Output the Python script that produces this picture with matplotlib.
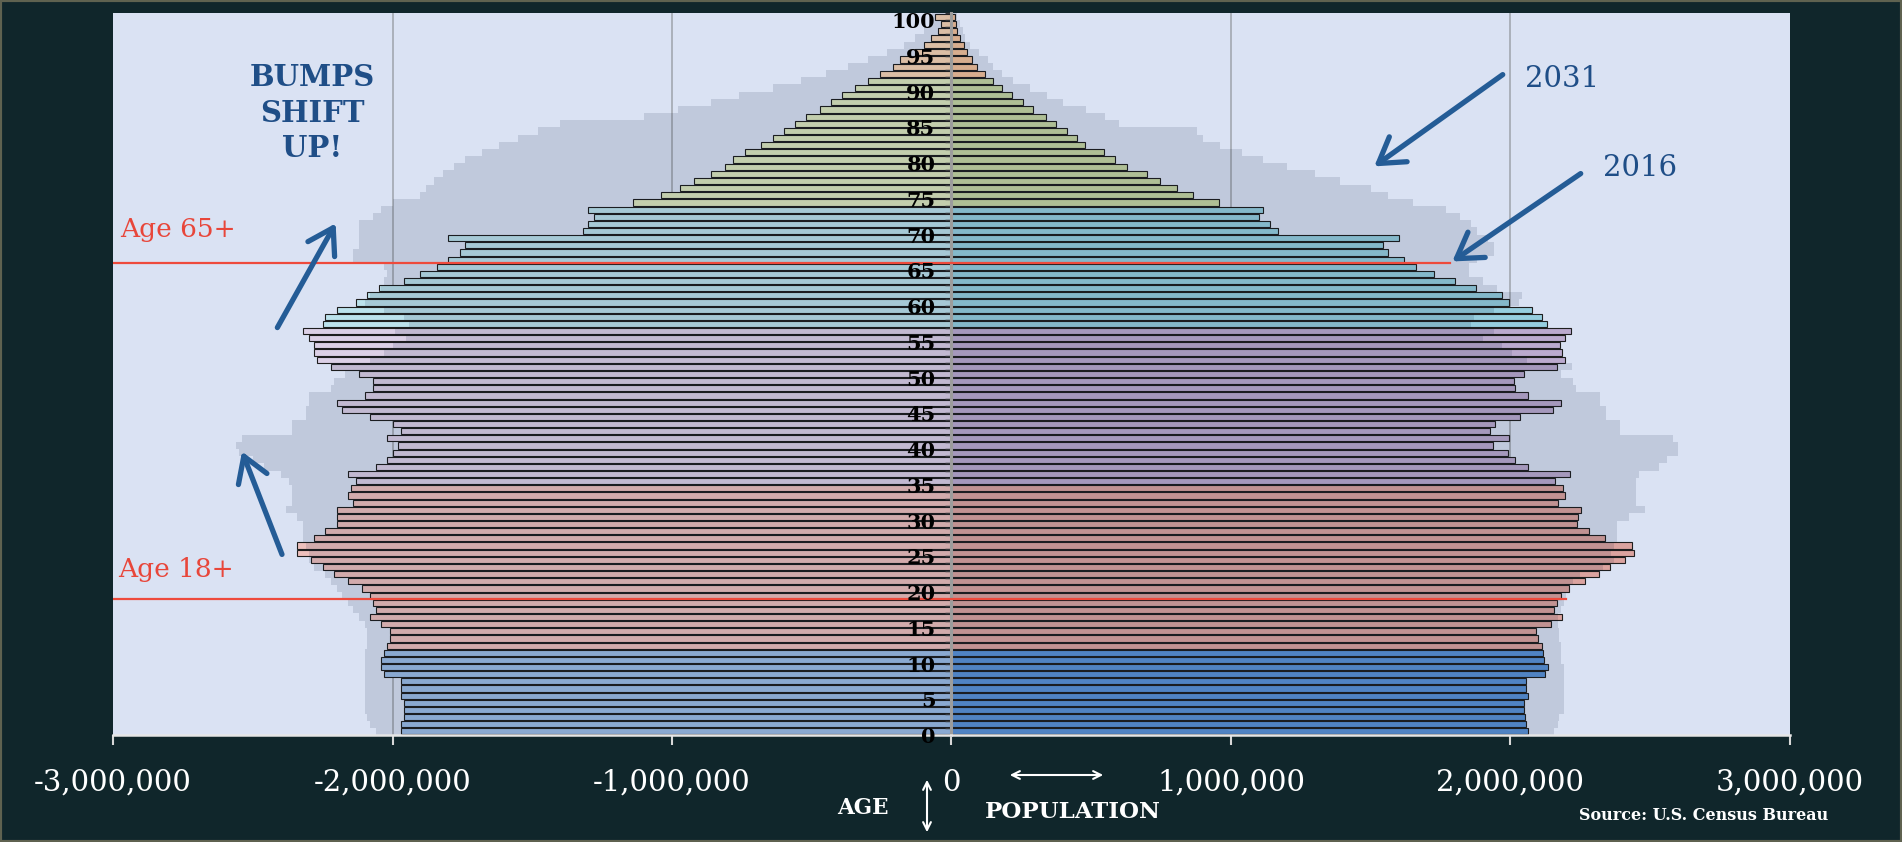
import numpy as np
import matplotlib
matplotlib.use("Agg")
import matplotlib.pyplot as plt
from matplotlib.patches import Rectangle, FancyArrowPatch

# ---------------- data (millions) ----------------
ages = list(range(0, 101))

# 2016, right side of the pyramid
right_2016 = [2.064, 2.057, 2.052, 2.047, 2.047, 2.061, 2.057, 2.057, 2.123, 2.133,
              2.121, 2.116, 2.113, 2.099, 2.092, 2.144, 2.186, 2.156, 2.165, 2.179,
              2.208, 2.266, 2.316, 2.356, 2.411, 2.442, 2.434, 2.338, 2.281, 2.239,
              2.243, 2.251, 2.170, 2.196, 2.187, 2.161, 2.212, 2.064, 2.017, 1.991,
              1.936, 1.995, 1.925, 1.944, 2.035, 2.151, 2.182, 2.064, 2.017, 2.012,
              2.047, 2.165, 2.194, 2.186, 2.177, 2.196, 2.217, 2.130, 2.113, 2.078,
              1.995, 1.970, 1.878, 1.800, 1.727, 1.661, 1.618, 1.561, 1.545, 1.601,
              1.167, 1.141, 1.101, 1.115, 0.958, 0.863, 0.806, 0.747, 0.698, 0.629,
              0.585, 0.547, 0.478, 0.450, 0.412, 0.373, 0.339, 0.290, 0.256, 0.217,
              0.181, 0.148, 0.120, 0.091, 0.073, 0.056, 0.044, 0.030, 0.021, 0.016,
              0.013]

# 2016, left side of the pyramid
left_2016 = [1.97, 1.97, 1.96, 1.96, 1.96, 1.97, 1.97, 1.97, 2.03, 2.04,
             2.04, 2.03, 2.02, 2.01, 2.01, 2.04, 2.08, 2.06, 2.07, 2.08,
             2.11, 2.16, 2.21, 2.25, 2.29, 2.34, 2.34, 2.28, 2.24, 2.20,
             2.20, 2.20, 2.14, 2.16, 2.15, 2.13, 2.16, 2.06, 2.02, 2.00,
             1.98, 2.02, 1.97, 2.00, 2.08, 2.18, 2.20, 2.10, 2.07, 2.07,
             2.12, 2.22, 2.27, 2.28, 2.28, 2.30, 2.32, 2.25, 2.24, 2.20,
             2.13, 2.09, 2.05, 1.96, 1.90, 1.84, 1.80, 1.76, 1.74, 1.80,
             1.32, 1.30, 1.28, 1.30, 1.14, 1.04, 0.97, 0.92, 0.86, 0.81,
             0.78, 0.74, 0.68, 0.64, 0.60, 0.56, 0.52, 0.47, 0.43, 0.39,
             0.346, 0.30, 0.257, 0.21, 0.185, 0.13, 0.10, 0.072, 0.048, 0.036,
             0.060]

# 2031 projection, right side
right_2031 = [2.156, 2.170, 2.175, 2.190, 2.190, 2.190, 2.190, 2.190, 2.190, 2.190,
              2.180, 2.180, 2.180, 2.175, 2.175, 2.170, 2.170, 2.180, 2.190, 2.200,
              2.210, 2.225, 2.250, 2.330, 2.370, 2.360, 2.370, 2.380, 2.380, 2.380,
              2.425, 2.480, 2.450, 2.450, 2.450, 2.450, 2.460, 2.530, 2.560, 2.600,
              2.600, 2.580, 2.390, 2.390, 2.340, 2.340, 2.320, 2.320, 2.235, 2.225,
              2.180, 2.220, 2.060, 2.005, 1.970, 1.900, 1.940, 1.860, 1.870, 1.940,
              2.030, 2.040, 1.950, 1.900, 1.850, 1.850, 1.880, 1.940, 1.940, 1.920,
              1.880, 1.860, 1.820, 1.770, 1.650, 1.560, 1.500, 1.390, 1.300, 1.200,
              1.115, 1.040, 0.960, 0.900, 0.880, 0.600, 0.550, 0.480, 0.400, 0.340,
              0.280, 0.220, 0.180, 0.150, 0.130, 0.100, 0.065, 0.050, 0.040, 0.030,
              0.020]

# 2031 projection, left side
left_2031 = [2.06, 2.08, 2.09, 2.10, 2.10, 2.10, 2.10, 2.10, 2.10, 2.10,
             2.10, 2.10, 2.09, 2.09, 2.09, 2.10, 2.12, 2.14, 2.16, 2.18,
             2.20, 2.22, 2.24, 2.28, 2.30, 2.30, 2.31, 2.32, 2.32, 2.32,
             2.34, 2.38, 2.36, 2.36, 2.36, 2.37, 2.40, 2.46, 2.50, 2.55,
             2.56, 2.54, 2.36, 2.36, 2.31, 2.31, 2.30, 2.30, 2.22, 2.21,
             2.17, 2.22, 2.08, 2.03, 2.00, 1.95, 1.99, 1.94, 1.96, 2.03,
             2.10, 2.08, 2.04, 2.03, 2.02, 2.03, 2.14, 2.14, 2.12, 2.12,
             2.12, 2.12, 2.07, 2.04, 2.00, 1.90, 1.88, 1.85, 1.82, 1.78,
             1.74, 1.68, 1.62, 1.55, 1.48, 1.40, 1.10, 0.98, 0.86, 0.76,
             0.64, 0.54, 0.45, 0.37, 0.30, 0.23, 0.17, 0.13, 0.10, 0.08,
             0.07]

# colour group boundaries (first age of each band)
band_starts = [0, 12, 35, 57, 74, 92]
right_colors = ["#5A92D6", "#DBA39F", "#BBAACE", "#96CEDF", "#C6D6A2", "#F4C29A"]
left_colors = ["#9CBDE6", "#EEC0BC", "#DCD0E6", "#BCE2EC", "#DDE8BE", "#F9D5B4"]

xticks = [-3e6, -2e6, -1e6, 0, 1e6, 2e6, 3e6]
xtick_labels = ["-3,000,000", "-2,000,000", "-1,000,000", "0", "1,000,000", "2,000,000", "3,000,000"]
yticks = list(range(0, 101, 5))

# ---------------- helpers ----------------
def band_color(age, palette):
    idx = 0
    for i, s in enumerate(band_starts):
        if age >= s:
            idx = i
    return palette[idx]

W, H = 1902, 842
DARK = "#10262B"
SERIF = "DejaVu Serif"

fig = plt.figure(figsize=(W / 100, H / 100), dpi=100, facecolor=DARK)
ax = fig.add_axes([113 / W, 107 / H, (1790 - 113) / W, (829 - 107) / H])
ax.set_facecolor("#DAE2F3")
ax.set_xlim(-3e6, 3e6)
ax.set_ylim(0, 101)
ax.set_axisbelow(False)

for gx in [-2e6, -1e6, 1e6, 2e6]:
    ax.axvline(gx, color="#A7ACB6", lw=1.3, zorder=0.5)

ages_arr = np.array(ages)
r16 = np.array(right_2016) * 1e6
l16 = np.array(left_2016) * 1e6
r31 = np.array(right_2031) * 1e6
l31 = np.array(left_2031) * 1e6

ax.barh(ages_arr + 0.5, r16, height=0.86,
        color=[band_color(a, right_colors) for a in ages],
        edgecolor="#1E1E1E", linewidth=0.8, zorder=2)
ax.barh(ages_arr + 0.5, -l16, height=0.86,
        color=[band_color(a, left_colors) for a in ages],
        edgecolor="#1E1E1E", linewidth=0.8, zorder=2)

# 2031 silhouette (translucent overlay, stepped)
yy = np.append(ages_arr, 101)
ax.fill_betweenx(yy, 0, np.append(r31, r31[-1]), step="post",
                 color="#0A1A3A", alpha=0.12, lw=0, zorder=3)
ax.fill_betweenx(yy, 0, -np.append(l31, l31[-1]), step="post",
                 color="#0A1A3A", alpha=0.12, lw=0, zorder=3)

# centre axis with age labels
for s in ["top", "right"]:
    ax.spines[s].set_visible(False)
ax.spines["left"].set_position(("data", 0))
ax.spines["left"].set_color("#9C9C9C")
ax.spines["left"].set_linewidth(2.2)
ax.spines["left"].set_zorder(4)
ax.spines["bottom"].set_color("#E6E6E6")
ax.spines["bottom"].set_linewidth(1.8)
ax.spines["bottom"].set_zorder(4)

ax.set_yticks(yticks)
ax.set_yticklabels([])
ax.set_yticks(range(0, 102), minor=True)
ax.tick_params(axis="y", which="both", direction="out", length=4,
               width=1, color="#3A3A3A")
for v in yticks:
    ax.annotate(str(v), xy=(0, v), xycoords="data", xytext=(-16, -2),
                textcoords="offset pixels", ha="right", va="center",
                fontfamily=SERIF, fontweight="bold", fontsize=15,
                color="black", zorder=7, annotation_clip=False)

ax.set_xticks(xticks)
ax.set_xticklabels(xtick_labels, fontfamily=SERIF, fontsize=21, color="white")
ax.tick_params(axis="x", direction="out", length=7.2, width=1.5,
               color="#D8D8D8", pad=17)

# red reference lines
ax.plot([-3e6, 1.783e6], [66, 66], color="#EE4A3C", lw=1.6, zorder=6)
ax.plot([-3e6, 2.2e6], [19, 19], color="#EE4A3C", lw=1.6, zorder=6)


def fp(x, y):
    return (x / W, 1 - y / H)


fig.text(*fp(120, 229), "Age 65+", color="#E8463A", fontfamily=SERIF,
         fontsize=19, ha="left", va="center")
fig.text(*fp(118, 570), "Age 18+", color="#E8463A", fontfamily=SERIF,
         fontsize=19, ha="left", va="center")
fig.text(*fp(312, 113), "BUMPS\nSHIFT\nUP!", color="#1F4E87", fontfamily=SERIF,
         fontweight="bold", fontsize=21, ha="center", va="center",
         linespacing=1.3)
fig.text(*fp(1525, 79), "2031", color="#1F4E87", fontfamily=SERIF,
         fontsize=21, ha="left", va="center")
fig.text(*fp(1603, 168), "2016", color="#1F4E87", fontfamily=SERIF,
         fontsize=21, ha="left", va="center")

blue_arrows = [((276, 330), (337, 221)),
               ((283, 557), (241, 449)),
               ((1505, 73), (1372, 168)),
               ((1583, 172), (1450, 263))]
for (x0, y0), (x1, y1) in blue_arrows:
    fig.add_artist(FancyArrowPatch(
        (x0, H - y0), (x1, H - y1), transform=None,
        arrowstyle="->,head_length=0.8,head_width=0.5", mutation_scale=22,
        color="#245C96", lw=3.8, zorder=10))

# bottom annotations
fig.text(*fp(863, 808), "AGE", color="white", fontfamily=SERIF,
         fontweight="bold", fontsize=15.5, ha="center", va="center")
fig.text(*fp(1073, 812), "POPULATION", color="white", fontfamily=SERIF,
         fontweight="bold", fontsize=16.5, ha="center", va="center")
fig.text(*fp(1704, 815), "Source: U.S. Census Bureau", color="white",
         fontfamily=SERIF, fontweight="bold", fontsize=11.5, ha="center", va="center")
fig.add_artist(FancyArrowPatch(
    (927, H - 777), (927, H - 835), transform=None, arrowstyle="<->",
    mutation_scale=14, color="white", lw=1.5))
fig.add_artist(FancyArrowPatch(
    (1007, H - 775), (1106, H - 775), transform=None, arrowstyle="<->",
    mutation_scale=14, color="white", lw=1.5))

fig.add_artist(Rectangle((0, 0), 1, 1, transform=fig.transFigure, fill=False,
                         edgecolor="#5F6250", lw=3))

fig.savefig("out.png", dpi=100, facecolor=DARK)
